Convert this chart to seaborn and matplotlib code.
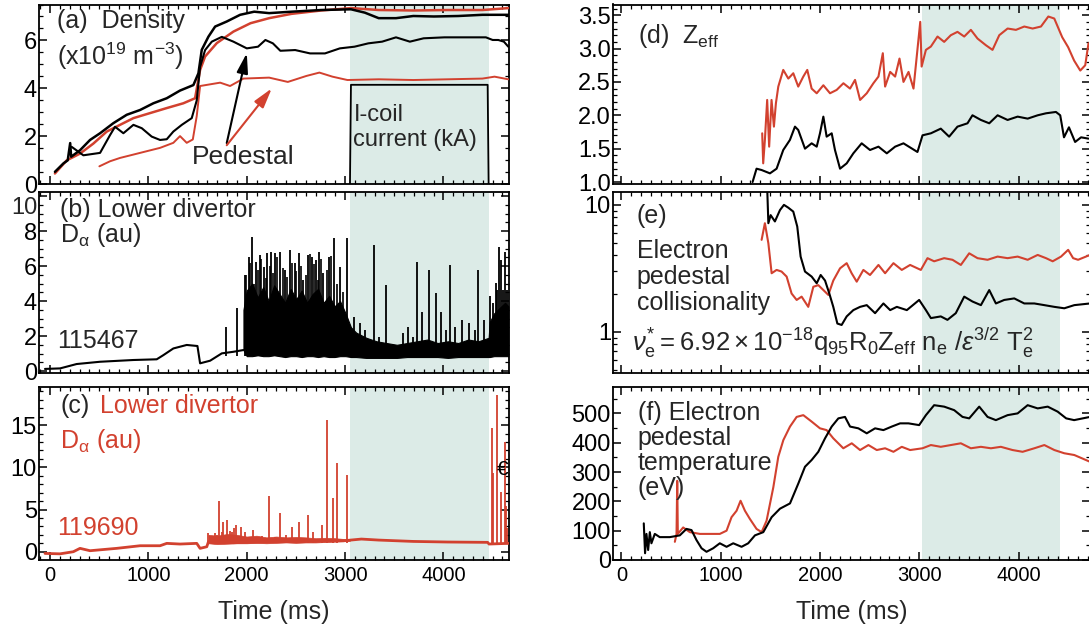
"""
Six-panel time trace figure: density, D-alpha, Zeff, collisionality, Te
"""

import numpy as np
import seaborn as sns
import matplotlib.pyplot as plt
from matplotlib.ticker import MultipleLocator, FixedLocator, LogLocator, NullFormatter, FuncFormatter
from matplotlib.transforms import blended_transform_factory

# ---------------- data ----------------
RED = '#d2412f'
BLACK = 'black'
SHADE = '#dcebe7'

icoil_left = (3050, 4460)
icoil_right = (3030, 4420)

# (a) line-average and pedestal density, 1e19 m^-3
ne_bar_115467_t = [50, 136, 180, 205, 215, 305, 407, 509, 644, 780, 916, 1051, 1187, 1322, 1458, 1509, 1543,
                   1611, 1679, 1797, 1933, 2076, 2228, 2456, 2758, 3060, 3201, 3342, 3518, 3694, 3904, 4150,
                   4397, 4539, 4660]
ne_bar_115467 = [0.52, 0.87, 1.0, 1.72, 1.15, 1.42, 1.85, 2.13, 2.55, 2.9, 3.1, 3.38, 3.59, 3.91, 4.14, 4.63, 5.61,
                 6.16, 6.58, 6.79, 7.07, 7.2, 7.14, 7.2, 7.27, 7.3, 7.16, 6.93, 6.93, 7.02, 7.0, 7.02,
                 7.07, 7.07, 7.07]
ne_bar_119690_t = [50, 170, 305, 441, 577, 712, 848, 1017, 1187, 1356, 1475, 1526, 1577, 1696, 1865, 2039, 2228,
                   2456, 2758, 3060, 3342, 3694, 4044, 4397, 4660]
ne_bar_119690 = [0.45, 1.0, 1.28, 1.7, 2.2, 2.48, 2.76, 2.97, 3.18, 3.38, 3.59, 4.77, 5.33, 5.89, 6.37, 6.72, 6.93,
                 7.11, 7.25, 7.35, 7.27, 7.25, 7.27, 7.27, 7.35]
ne_ped_115467_t = [221, 339, 509, 610, 661, 746, 848, 933, 1034, 1119, 1187, 1254, 1340, 1441, 1492, 1526, 1577,
                   1645, 1747, 1865, 2001, 2115, 2190, 2266, 2342, 2493, 2644, 2796, 2947, 3096, 3237, 3377,
                   3518, 3659, 3799, 4010, 4221, 4432, 4501, 4558, 4615, 4660]
ne_ped_115467 = [1.56, 1.21, 1.31, 2.05, 2.4, 2.13, 2.48, 2.34, 1.99, 1.85, 1.88, 2.2, 2.48, 2.76, 3.5, 4.9, 5.6,
                 5.95, 6.15, 5.95, 5.67, 5.74, 6.02, 5.88, 5.57, 5.6, 5.46, 5.46, 5.67, 5.74, 5.88, 5.95,
                 6.13, 5.95, 6.09, 6.13, 6.13, 6.13, 6.02, 6.02, 5.95, 5.74]
ne_ped_119690_t = [502, 610, 712, 848, 983, 1119, 1254, 1322, 1390, 1452, 1492, 1526, 1628, 1730, 1831, 1967,
                   2228, 2418, 2607, 2739, 2872, 3024, 3342, 3694, 4044, 4397, 4520, 4660]
ne_ped_119690 = [0.75, 0.96, 1.1, 1.24, 1.38, 1.52, 1.73, 2.01, 1.73, 1.87, 2.85, 4.1, 4.17, 4.24, 4.1, 4.41,
                 4.45, 4.27, 4.52, 4.66, 4.49, 4.35, 4.38, 4.35, 4.38, 4.41, 4.49, 4.38]
icoil_t = [3050, 3060, 4450, 4460]
icoil_ka = [0.0, 4.15, 4.15, 0.0]

# (b) lower divertor D-alpha, 115467
da_115467_t = [-51, 102, 271, 509, 848, 1085, 1153, 1254, 1390, 1499, 1526, 1628, 1747, 1865, 1967]
da_115467 = [0.12, 0.15, 0.40, 0.53, 0.63, 0.67, 0.91, 1.29, 1.49, 1.43, 0.44, 0.59, 1.01, 1.10, 1.20]
elm_band_t = [1967, 2000, 2056, 2112, 2168, 2223, 2279, 2335, 2391, 2447,
              2503, 2559, 2614, 2670, 2726, 2782, 2838, 2894, 2949, 3005,
              3060, 3112, 3216, 3320, 3423, 3527, 3631, 3735, 3838, 3942,
              4046, 4150, 4253, 4357, 4460, 4471, 4516, 4571, 4627, 4660]
elm_band_top = [3.5, 4.6, 5.0, 4.2, 4.8, 4.0, 4.9, 4.4, 3.9, 4.7,
                4.1, 4.6, 3.9, 4.4, 4.7, 3.9, 4.3, 3.7, 4.0, 3.3,
                2.5, 2.2, 1.9, 1.7, 1.6, 1.5, 1.6, 1.7, 1.8, 1.6,
                1.7, 1.6, 1.8, 1.7, 1.9, 2.8, 3.3, 3.6, 3.9, 3.7]
elm_band_floor = [1.2, 0.85, 0.85, 0.9, 0.85, 0.85, 0.9, 0.85, 0.8, 0.85,
                  0.85, 0.8, 0.85, 0.85, 0.8, 0.85, 0.8, 0.8, 0.85, 0.85,
                  0.8, 0.8, 0.75, 0.75, 0.75, 0.75, 0.8, 0.8, 0.8, 0.8,
                  0.75, 0.8, 0.8, 0.8, 0.8, 0.8, 0.85, 0.85, 0.85, 0.85]
elm_115467_t = [1790, 1899, 1984, 2019, 2058, 2096, 2133, 2172, 2209, 2247, 2285, 2342, 2388, 2437, 2486,
                2532, 2570, 2626, 2663, 2701, 2739, 2777, 2834, 2891, 2947, 3023, 3096, 3148, 3201, 3290,
                3342, 3412, 3518, 3588, 3641, 3693, 3735, 3781, 3851, 3922, 3975, 4028, 4063, 4115, 4185,
                4256, 4319, 4354, 4413, 4473, 4501, 4530, 4548, 4567, 4586, 4605, 4624, 4643]
elm_115467 = [2.53, 3.58, 5.49, 6.53, 7.67, 6.25, 6.63, 5.96, 6.72, 6.82, 6.72, 6.82, 5.78, 6.91, 6.15,
              6.72, 5.2, 6.63, 6.53, 6.34, 6.82, 5.59, 6.53, 7.58, 5.96, 7.58, 3.11, 2.72, 2.34, 7.2,
              1.96, 4.91, 1.39, 2.15, 2.53, 1.96, 6.25, 3.39, 5.78, 4.45, 3.39, 2.34, 6.06, 2.53, 2.91,
              2.72, 2.34, 5.78, 2.91, 4.26, 3.87, 5.01, 4.63, 7.1, 6.34, 4.63, 6.82, 4.63]
elm_dense_t = [1995, 2035, 2075, 2115, 2150, 2195, 2232, 2268, 2305, 2365, 2412, 2458, 2505, 2548, 2600,
               2645, 2688, 2722, 2760, 2812, 2862, 2920, 2975]
elm_dense = [5.5, 6.2, 5.0, 5.8, 6.4, 5.3, 6.0, 5.6, 6.5, 5.9, 5.4, 6.2, 5.7, 6.0, 5.5,
             6.7, 6.1, 5.2, 6.4, 5.8, 6.6, 5.0, 4.5]

# (c) lower divertor D-alpha, 119690
da_119690_t = [-51, 102, 237, 305, 407, 678, 916, 1119, 1187, 1322, 1492, 1526, 1594, 1611, 1865, 2228,
               2607, 2985, 3166, 3342, 3694, 4044, 4450, 4464, 4660]
da_119690 = [-0.2, -0.25, 0.0, 0.4, 0.12, 0.4, 0.71, 0.71, 0.99, 0.91, 0.99, 0.40, 0.59, 1.19, 1.07, 1.19,
             1.26, 1.3, 1.5, 1.38, 1.22, 1.15, 1.11, 0.91, 0.99]
da_119690_band_t = [1611, 1700, 1800, 1900, 2000, 2100, 2200, 2300, 2400, 2500, 2600, 2700, 2800, 2900,
                    3000, 3050]
da_119690_band_lo = [1.0, 0.9, 0.95, 1.0, 1.0, 1.05, 1.0, 1.05, 1.1, 1.05, 1.1, 1.1, 1.15, 1.2, 1.25, 1.3]
da_119690_band_hi = [2.0, 1.9, 2.1, 2.0, 1.8, 1.9, 1.7, 1.8, 1.7, 1.75, 1.7, 1.6, 1.65, 1.6, 1.5, 1.45]
elm_119690_t = [1610, 1680, 1700, 1722, 1745, 1760, 1804, 1830, 1848, 1870, 1892, 1940, 1984, 2069, 2156,
                2228, 2285, 2342, 2399, 2456, 2532, 2626, 2670, 2766, 2815, 2879, 2917, 3015, 4490, 4500,
                4550, 4590, 4625, 4635, 4650]
elm_119690 = [2.18, 2.2, 2.0, 5.99, 2.38, 3.5, 3.76, 2.5, 2.38, 2.8, 3.17, 2.97, 2.38, 2.57, 1.9,
              6.58, 1.78, 4.54, 1.98, 2.97, 3.57, 4.36, 2.3, 3.17, 15.6, 6.38, 10.5, 9.1, 14.6, 9.3,
              18.6, 7.1, 13.0, 5.4, 2.8]

# (d) Zeff
zeff_119690_t = [1418, 1428, 1445, 1468, 1488, 1512, 1536, 1556, 1580, 1630, 1681, 1731, 1781, 1832, 1872,
                 1916, 1967, 2034, 2101, 2168, 2236, 2303, 2353, 2404, 2471, 2538, 2589, 2633, 2656, 2707,
                 2757, 2801, 2841, 2892, 2942, 3010, 3024, 3067, 3117, 3184, 3251, 3318, 3385, 3453, 3520,
                 3587, 3671, 3738, 3806, 3890, 3974, 4058, 4142, 4226, 4300, 4360, 4440, 4500, 4560, 4622,
                 4672, 4705]
zeff_119690 = [1.73, 1.28, 1.63, 2.23, 1.53, 2.23, 1.83, 2.18, 2.43, 2.68, 2.55, 2.63, 2.43, 2.58, 2.68,
               2.4, 2.33, 2.45, 2.33, 2.38, 2.48, 2.4, 2.53, 2.23, 2.33, 2.48, 2.58, 2.93, 2.43, 2.65,
               2.58, 2.85, 2.5, 2.65, 2.4, 3.4, 2.73, 2.98, 3.03, 3.18, 3.1, 3.2, 3.25, 3.18, 3.28,
               3.15, 3.05, 2.98, 3.2, 3.3, 3.28, 3.33, 3.3, 3.33, 3.48, 3.45, 3.17, 3.02, 2.82, 2.67,
               2.75, 3.08]
zeff_115467_t = [1321, 1361, 1412, 1496, 1563, 1630, 1697, 1748, 1781, 1849, 1916, 1967, 2000, 2034, 2067,
                 2118, 2151, 2202, 2269, 2336, 2420, 2504, 2589, 2673, 2757, 2841, 2982, 3033, 3117, 3217,
                 3301, 3385, 3486, 3536, 3621, 3705, 3789, 3890, 3991, 4092, 4193, 4277, 4377, 4420, 4458,
                 4508, 4570, 4630, 4705]
zeff_115467 = [1.0, 1.2, 1.18, 1.13, 1.2, 1.48, 1.63, 1.83, 1.78, 1.5, 1.58, 1.53, 1.73, 1.98, 1.68,
               1.73, 1.48, 1.2, 1.28, 1.43, 1.58, 1.48, 1.53, 1.43, 1.53, 1.58, 1.45, 1.7, 1.73, 1.8,
               1.68, 1.83, 1.88, 2.0, 1.93, 1.88, 2.0, 1.93, 1.98, 1.95, 2.0, 2.03, 2.05, 2.0, 1.67,
               1.82, 1.6, 1.67, 1.65]

# (e) pedestal collisionality
nu_115467_t = [1469, 1480, 1503, 1546, 1597, 1637, 1681, 1731, 1771, 1805, 1849, 1916, 1967, 2007, 2051,
               2094, 2134, 2175, 2218, 2269, 2336, 2404, 2471, 2555, 2639, 2707, 2774, 2875, 2999, 3067,
               3117, 3217, 3284, 3368, 3453, 3536, 3621, 3705, 3772, 3856, 3957, 4058, 4159, 4260, 4361,
               4461, 4562, 4720]
nu_115467 = [13.1, 7.17, 8.3, 7.4, 9.1, 10.0, 9.5, 8.85, 6.75, 3.91, 2.98, 2.72, 2.41, 2.8, 2.53,
             2.0, 1.57, 1.16, 1.13, 1.32, 1.48, 1.57, 1.62, 1.4, 1.67, 1.48, 1.57, 1.48, 1.78, 1.48,
             1.28, 1.32, 1.24, 1.4, 1.89, 1.73, 1.62, 2.13, 1.67, 1.78, 1.83, 1.67, 1.67, 1.62, 1.57,
             1.53, 1.62, 1.67]
nu_119690_t = [1412, 1445, 1480, 1513, 1563, 1613, 1664, 1714, 1765, 1815, 1882, 1933, 1983, 2034, 2084,
               2134, 2202, 2269, 2319, 2370, 2437, 2504, 2589, 2656, 2740, 2824, 2908, 3016, 3083, 3150,
               3251, 3335, 3419, 3503, 3587, 3688, 3789, 3890, 3991, 4092, 4193, 4277, 4344, 4428, 4500,
               4550, 4600, 4720]
nu_119690 = [5.3, 7.17, 4.98, 2.89, 3.07, 2.98, 2.72, 2.0, 1.78, 1.89, 1.57, 2.26, 2.33, 2.13, 1.95,
             2.53, 3.16, 3.47, 2.89, 2.48, 3.07, 2.8, 3.36, 2.89, 3.47, 3.07, 3.36, 3.07, 3.8, 3.59,
             3.8, 3.69, 3.36, 4.15, 3.8, 3.69, 3.91, 3.8, 3.91, 3.69, 4.03, 3.8, 3.59, 3.91, 4.42,
             3.8, 3.69, 4.03]

# (f) pedestal electron temperature, eV
te_115467_t = [225, 238, 252, 269, 286, 302, 336, 386, 487, 588, 655, 706, 756, 807, 857, 924, 991, 1059,
               1126, 1210, 1277, 1345, 1429, 1513, 1597, 1698, 1782, 1849, 1916, 1983, 2051, 2118, 2185,
               2252, 2303, 2387, 2471, 2555, 2639, 2723, 2807, 2891, 2999, 3067, 3150, 3251, 3352, 3436,
               3503, 3604, 3688, 3772, 3890, 3991, 4092, 4193, 4294, 4394, 4480, 4560, 4720]
te_115467 = [125, 23, 89, 34, 95, 57, 89, 78, 78, 84, 106, 102, 68, 40, 28, 40, 57, 45,
             57, 45, 57, 84, 95, 146, 175, 193, 261, 318, 341, 369, 415, 455, 483,
             488, 455, 449, 432, 449, 443, 455, 466, 466, 460, 494, 528, 523, 511, 488,
             483, 523, 488, 477, 494, 500, 528, 517, 523, 506, 483, 477, 488]
te_119690_t = [538, 555, 562, 568, 622, 689, 790, 891, 991, 1059, 1109, 1160, 1200, 1244, 1294, 1361, 1412,
               1462, 1530, 1580, 1631, 1698, 1765, 1832, 1916, 2000, 2067, 2134, 2235, 2320, 2404, 2488,
               2572, 2656, 2740, 2824, 2908, 3033, 3117, 3217, 3318, 3419, 3520, 3621, 3722, 3822, 3940,
               4041, 4159, 4260, 4361, 4461, 4562, 4720]
te_119690 = [62, 89, 270, 89, 111, 95, 89, 89, 89, 100, 146, 168, 202, 168, 140, 106, 95,
             134, 248, 352, 409, 455, 488, 494, 472, 449, 443, 415, 381, 398, 375, 392,
             375, 381, 369, 386, 375, 381, 392, 386, 392, 398, 381, 386, 381, 386, 375,
             369, 381, 392, 375, 364, 358, 335]

# ---------------- style ----------------
sns.set_theme(style='ticks')
plt.rcParams['font.family'] = ['Liberation Sans', 'DejaVu Sans']
plt.rcParams.update({
    'mathtext.fontset': 'custom',
    'mathtext.rm': 'Liberation Sans',
    'mathtext.it': 'Liberation Sans:italic',
    'mathtext.bf': 'Liberation Sans:bold',
    'axes.linewidth': 1.3,
    'axes.edgecolor': 'black',
})

XTICK_FS = 14.5
YTICK_FS = 17
TEXT_FS = 18
W, H = 1089, 632
ARROW = '-|>,head_length=0.6,head_width=0.17'


def px_box(x0, x1, y0, y1):
    return [x0 / W, 1 - y1 / H, (x1 - x0) / W, (y1 - y0) / H]


def style_axis(ax, xlim, ylim, major_y, minor_y, show_x):
    ax.set_xlim(*xlim)
    ax.set_ylim(*ylim)
    ax.xaxis.set_major_locator(MultipleLocator(1000))
    ax.xaxis.set_minor_locator(MultipleLocator(100))
    if major_y is not None:
        ax.yaxis.set_major_locator(MultipleLocator(major_y))
        ax.yaxis.set_minor_locator(MultipleLocator(minor_y))
    ax.tick_params(which='both', direction='in', top=True, right=True, color='black', labelcolor='black')
    ax.tick_params(which='major', length=6, width=1.1)
    ax.tick_params(which='minor', length=3, width=0.9)
    ax.tick_params(axis='x', labelsize=XTICK_FS, pad=4)
    ax.tick_params(axis='y', labelsize=YTICK_FS, pad=1.5)
    if show_x:
        ax.set_xlabel('Time (ms)', fontsize=TEXT_FS, labelpad=11)
    else:
        ax.tick_params(axis='x', labelbottom=False)
    ax.set_ylabel('')
    ax.grid(False)


def shade(ax, span):
    ax.axvspan(span[0], span[1], color=SHADE, lw=0, zorder=0)


def line(ax, t, y, color, lw=1.5):
    sns.lineplot(x=t, y=y, ax=ax, color=color, linewidth=lw, sort=False, estimator=None, zorder=3)


fig = plt.figure(figsize=(W / 100, H / 100), dpi=100)

LX = (39, 508.5)
RX = (613, 1090)
ROWS = [(4.5, 184.3), (191.7, 373.3), (386.7, 560)]
XL = (-112, 4662)
XR = (-85, 4720)

# (a)
ax = fig.add_axes(px_box(LX[0], LX[1], *ROWS[0]))
shade(ax, icoil_left)
line(ax, icoil_t, icoil_ka, BLACK, 1.3)
line(ax, ne_ped_119690_t, ne_ped_119690, RED, 1.4)
line(ax, ne_bar_119690_t, ne_bar_119690, RED, 1.8)
line(ax, ne_ped_115467_t, ne_ped_115467, BLACK, 1.5)
line(ax, ne_bar_115467_t, ne_bar_115467, BLACK, 1.8)
style_axis(ax, XL, (0, 7.5), 2, 0.5, False)
ax.text(0.038, 0.975, '(a)  Density', transform=ax.transAxes, fontsize=TEXT_FS, va='top')
ax.text(0.038, 0.80, r'(x10$^{\mathregular{19}}$ m$^{\mathregular{-3}}$)', transform=ax.transAxes,
        fontsize=TEXT_FS, va='top')
ax.text(3085, 3.35, 'I-coil\ncurrent (kA)', fontsize=TEXT_FS - 1, va='top', linespacing=1.2)
ax.text(1440, 1.62, 'Pedestal', fontsize=TEXT_FS + 1, va='top')
ax.annotate('', xy=(2001, 5.47), xytext=(1797, 1.72),
            arrowprops=dict(arrowstyle=ARROW, color=BLACK, lw=1.5, mutation_scale=20, shrinkA=0, shrinkB=0))
ax.annotate('', xy=(2255, 4.0), xytext=(1797, 1.63),
            arrowprops=dict(arrowstyle=ARROW, color=RED, lw=1.5, mutation_scale=20, shrinkA=0, shrinkB=0))

# (b)
ax = fig.add_axes(px_box(LX[0], LX[1], *ROWS[1]))
shade(ax, icoil_left)
ax.fill_between(elm_band_t, elm_band_floor, elm_band_top, color=BLACK, lw=0.8, zorder=3)
ax.vlines(elm_dense_t, 0.85, elm_dense, color=BLACK, lw=1.2, zorder=3)
ax.vlines(elm_115467_t, 0.85, elm_115467, color=BLACK, lw=1.3, zorder=3)
line(ax, da_115467_t, da_115467, BLACK, 1.5)
style_axis(ax, XL, (-0.13, 10.25), 2, 0.5, False)
# the top label sits a little below its tick, as in the original
ax.yaxis.set_major_formatter(FuncFormatter(lambda v, p: '' if v > 9 else f'{v:g}'))
ax.text(-0.004, 9.3, '10', transform=blended_transform_factory(ax.transAxes, ax.transData),
        fontsize=YTICK_FS, ha='right', va='center')
ax.text(0.045, 0.965, '(b) Lower divertor', transform=ax.transAxes, fontsize=TEXT_FS, va='top')
ax.text(0.045, 0.84, r'D$_{\mathregular{\alpha}}$ (au)', transform=ax.transAxes, fontsize=TEXT_FS, va='top')
ax.text(0.038, 0.245, '115467', transform=ax.transAxes, fontsize=TEXT_FS, va='top')

# (c)
ax = fig.add_axes(px_box(LX[0], LX[1], *ROWS[2]))
shade(ax, icoil_left)
ax.fill_between(da_119690_band_t, da_119690_band_lo, da_119690_band_hi, color=RED, lw=0.5, zorder=3)
ax.vlines(elm_119690_t, 1.0, elm_119690, color=RED, lw=1.3, zorder=3)
line(ax, da_119690_t, da_119690, RED, 2.0)
style_axis(ax, XL, (-0.98, 19.55), 5, 1, True)
ax.text(0.045, 0.955, '(c)', transform=ax.transAxes, fontsize=TEXT_FS, va='top')
ax.text(0.13, 0.955, 'Lower divertor', transform=ax.transAxes, fontsize=TEXT_FS, va='top', color=RED)
ax.text(0.045, 0.77, r'D$_{\mathregular{\alpha}}$ (au)', transform=ax.transAxes, fontsize=TEXT_FS,
        va='top', color=RED)
ax.text(0.038, 0.255, '119690', transform=ax.transAxes, fontsize=TEXT_FS, va='top', color=RED)
ax.text(4605, 9.7, '€', fontsize=TEXT_FS - 3, ha='center', va='center', color=BLACK, zorder=4)

# (d)
ax = fig.add_axes(px_box(RX[0], RX[1], *ROWS[0]))
shade(ax, icoil_right)
line(ax, zeff_119690_t, zeff_119690, RED, 1.5)
line(ax, zeff_115467_t, zeff_115467, BLACK, 1.5)
style_axis(ax, XR, (0.966, 3.66), 0.5, 0.1, False)
ax.yaxis.set_major_formatter(FuncFormatter(lambda v, p: f'{v:.1f}'))
ax.text(0.052, 0.9, r'(d)  Z$_{\mathregular{eff}}$', transform=ax.transAxes, fontsize=TEXT_FS, va='top')

# (e)
ax = fig.add_axes(px_box(RX[0], RX[1], *ROWS[1]))
shade(ax, icoil_right)
line(ax, nu_119690_t, nu_119690, RED, 1.5)
line(ax, nu_115467_t, nu_115467, BLACK, 1.5)
style_axis(ax, XR, (0.47, 12.7), None, None, False)
ax.set_yscale('log')
ax.set_ylim(0.47, 12.7)
ax.yaxis.set_major_locator(FixedLocator([1, 10]))
ax.yaxis.set_major_formatter(FuncFormatter(lambda v, p: f'{v:g}'))
ax.yaxis.set_minor_locator(LogLocator(base=10, subs=np.arange(2, 10)))
ax.yaxis.set_minor_formatter(NullFormatter())
ax.tick_params(which='both', direction='in', right=True)
ax.text(0.05, 0.935, '(e)', transform=ax.transAxes, fontsize=TEXT_FS, va='top')
ax.text(0.05, 0.74, 'Electron\npedestal\ncollisionality', transform=ax.transAxes, fontsize=TEXT_FS,
        va='top', linespacing=1.1)
ax.text(0.04, 0.165,
        r'$\nu^{*}_{\mathrm{e}}\mathrm{=6.92\times10^{-18}q_{95}R_{0}Z_{eff}\ n_{e}\ /}'
        r'\varepsilon^{3/2}\ \mathrm{T_{e}^{2}}$',
        transform=ax.transAxes, fontsize=TEXT_FS + 0.5, va='center')

# (f)
ax = fig.add_axes(px_box(RX[0], RX[1], *ROWS[2]))
shade(ax, icoil_right)
line(ax, te_119690_t, te_119690, RED, 1.5)
line(ax, te_115467_t, te_115467, BLACK, 1.5)
style_axis(ax, XR, (0, 591), 100, 50, True)
ax.text(0.052, 0.915, '(f) Electron\npedestal\ntemperature\n(eV)', transform=ax.transAxes,
        fontsize=TEXT_FS, va='top', linespacing=1.05)

fig.savefig('out.png', dpi=100)
